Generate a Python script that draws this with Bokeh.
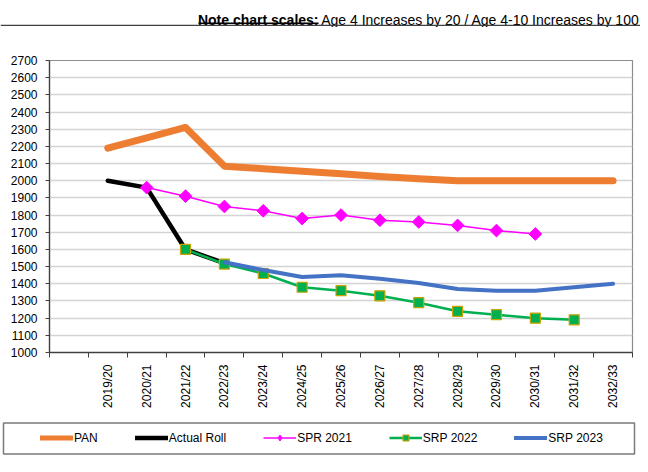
import numpy as np
from bokeh.plotting import figure
from bokeh.layouts import column
from bokeh.models import (FixedTicker, Legend, LegendItem, Label, BoxAnnotation, Range1d)
from bokeh.embed import file_html
from bokeh.resources import INLINE

categories = ["2019/20", "2020/21", "2021/22", "2022/23", "2023/24", "2024/25", "2025/26",
              "2026/27", "2027/28", "2028/29", "2029/30", "2030/31", "2031/32", "2032/33"]
pan = [2190, 2250, 2310, 2085, 2070, 2055, 2040, 2025, 2012, 2000, 2000, 2000, 2000, 2000]
actual_roll = [2000, 1960, 1600, 1520, None, None, None, None, None, None, None, None, None, None]
spr_2021 = [None, 1960, 1910, 1850, 1825, 1780, 1800, 1770, 1760, 1740, 1710, 1690, None, None]
srp_2022 = [None, None, 1600, 1515, 1460, 1380, 1360, 1330, 1290, 1240, 1220, 1200, 1190, None]
srp_2023 = [None, None, None, 1525, 1480, 1440, 1450, 1430, 1405, 1370, 1360, 1360, 1380, 1400]
y_ticks = list(range(1000, 2701, 100))
series_names = ["PAN", "Actual Roll", "SPR 2021", "SRP 2022", "SRP 2023"]

title_bold = "Note chart scales:"
title_rest = "Age 4 Increases by 20 / Age 4-10 Increases by 100"

FONT = "Liberation Sans"
W = 640
xs = list(range(1, len(categories) + 1))

C_PAN, C_ACT, C_SPR, C_G, C_GB, C_B = "#ED7D31", "black", "#FF00FF", "#00B050", "#C9A400", "#4472C4"


def pts(vals):
    px = [x for x, v in zip(xs, vals) if v is not None]
    py = [v for v in vals if v is not None]
    return px, py


def bare(h):
    f = figure(width=W, height=h, output_backend="svg", toolbar_location=None,
               x_range=Range1d(0, W), y_range=Range1d(0, h), x_axis_type=None, y_axis_type=None,
               min_border=0)
    f.frame_align = False
    f.outline_line_color = None
    f.background_fill_color = "white"
    f.border_fill_color = "white"
    return f


# ---------------- header ----------------
HH = 27
header = bare(HH)
header.add_layout(Label(x=639, y=7.5, text=title_rest, text_align="right",
                        text_baseline="alphabetic", text_font=FONT, text_font_size="14px",
                        text_color="black"))
header.add_layout(Label(x=318, y=7.5, text=title_bold, text_align="right",
                        text_baseline="alphabetic", text_font=FONT, text_font_size="14px",
                        text_font_style="bold", text_color="black"))
header.add_layout(BoxAnnotation(left=198, right=318, bottom=3.6, top=4.9, fill_color="black",
                                fill_alpha=1, line_color=None))
header.add_layout(BoxAnnotation(left=0, right=W, bottom=1.6, top=2.7, fill_color="#404040",
                                fill_alpha=1, line_color=None))

# ---------------- main chart ----------------
MH = 385
p = figure(width=W, height=MH, output_backend="svg", toolbar_location=None,
           x_range=Range1d(-0.5, len(categories) + 0.5), y_range=Range1d(y_ticks[0], y_ticks[-1]),
           min_border_left=49, min_border_right=8, min_border_top=33, min_border_bottom=60)
p.frame_align = False
p.background_fill_color = "white"
p.border_fill_color = "white"
p.outline_line_color = "#8c8c8c"
p.outline_line_width = 1.2

p.xgrid.visible = False
p.ygrid.grid_line_color = "#d4d4d4"
p.ygrid.grid_line_width = 1.3

p.yaxis.ticker = FixedTicker(ticks=y_ticks, minor_ticks=[])
p.yaxis.axis_line_color = "#404040"
p.yaxis.axis_line_width = 1.3
p.yaxis.major_tick_line_color = "#404040"
p.yaxis.major_tick_out = 4
p.yaxis.major_tick_in = 0
p.yaxis.minor_tick_line_color = None
p.yaxis.major_label_standoff = 8
p.yaxis.major_label_text_font = FONT
p.yaxis.major_label_text_font_size = "12px"
p.yaxis.major_label_text_color = "black"

p.xaxis.ticker = FixedTicker(ticks=xs, minor_ticks=[i - 0.5 for i in range(0, len(categories) + 2)])
p.xaxis.major_label_overrides = {x: c for x, c in zip(xs, categories)}
p.xaxis.major_label_orientation = np.pi / 2
p.xaxis.axis_line_color = "#404040"
p.xaxis.axis_line_width = 1.3
p.xaxis.major_tick_line_color = None
p.xaxis.major_tick_out = 0
p.xaxis.major_tick_in = 0
p.xaxis.minor_tick_line_color = "#404040"
p.xaxis.minor_tick_out = 5
p.xaxis.minor_tick_in = 0
p.xaxis.major_label_standoff = 7
p.xaxis.major_label_text_font = FONT
p.xaxis.major_label_text_font_size = "12px"
p.xaxis.major_label_text_color = "black"

x, y = pts(pan)
p.line(x, y, line_color=C_PAN, line_width=7, line_cap="round", line_join="round")
x, y = pts(actual_roll)
p.line(x, y, line_color=C_ACT, line_width=4.5, line_cap="round", line_join="round")
x, y = pts(spr_2021)
p.line(x, y, line_color=C_SPR, line_width=1.5)
p.scatter(x, y, marker="square", size=9, angle=np.pi / 4, fill_color=C_SPR, line_color=C_SPR)
x, y = pts(srp_2022)
p.line(x, y, line_color=C_G, line_width=2.5)
p.scatter(x, y, marker="square", size=10, fill_color=C_G, line_color=C_GB, line_width=1.2)
x, y = pts(srp_2023)
p.line(x, y, line_color=C_B, line_width=4, line_cap="round", line_join="round")

# ---------------- legend footer ----------------
FH = 52
footer = bare(FH)
off = ([-100, -90], [-100, -100])  # legend-only proxies, outside the visible footer area
l_pan = footer.line(*off, line_color=C_PAN, line_width=5, line_cap="round")
l_act = footer.line(*off, line_color=C_ACT, line_width=4.5, line_cap="round")
l_spr = footer.line(*off, line_color=C_SPR, line_width=1.5)
m_spr = footer.scatter(*off, marker="diamond", fill_color=C_SPR, line_color=C_SPR)
l_g = footer.line(*off, line_color=C_G, line_width=2.5)
m_g = footer.scatter(*off, marker="square", fill_color=C_G, line_color=C_GB, line_width=1.2)
l_b = footer.line(*off, line_color=C_B, line_width=4, line_cap="round")
legend = Legend(items=[
    LegendItem(label=series_names[0], renderers=[l_pan]),
    LegendItem(label=series_names[1], renderers=[l_act]),
    LegendItem(label=series_names[2], renderers=[l_spr, m_spr]),
    LegendItem(label=series_names[3], renderers=[l_g, m_g]),
    LegendItem(label=series_names[4], renderers=[l_b]),
], orientation="horizontal", location=(40, 19), padding=0, margin=0, spacing=37,
    glyph_width=33, glyph_height=15, label_height=15, label_standoff=1,
    border_line_color=None, background_fill_alpha=0,
    label_text_font=FONT, label_text_font_size="12px", label_text_color="black")
footer.add_layout(legend)
footer.add_layout(BoxAnnotation(left=3, right=634, bottom=10.5, top=41.5, fill_alpha=0,
                                line_color="#7a7a7a", line_width=1.5, line_alpha=1))

layout = column(header, p, footer, spacing=0)
open("out.html", "w").write(file_html(layout, INLINE))
